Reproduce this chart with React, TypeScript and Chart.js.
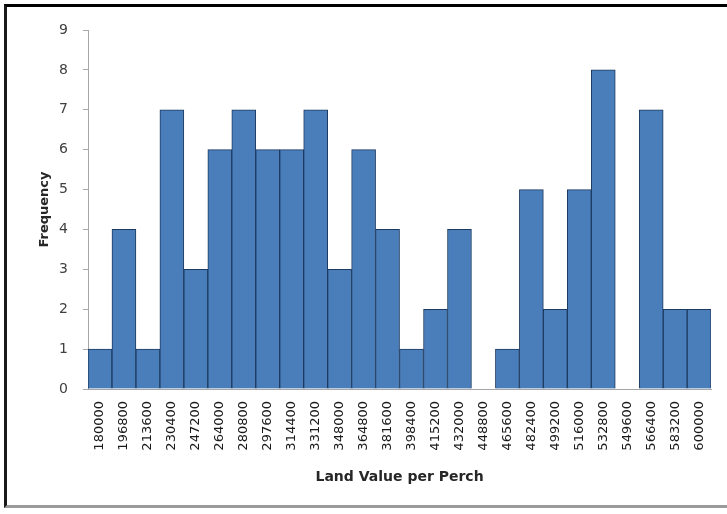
import React, { useEffect, useRef } from "react";
import { Chart, registerables } from "chart.js";

Chart.register(...registerables);

// Histogram bins (land value per perch) and their counts
const binLabels: string[] = [
  "180000", "196800", "213600", "230400", "247200", "264000", "280800",
  "297600", "314400", "331200", "348000", "364800", "381600", "398400",
  "415200", "432000", "448800", "465600", "482400", "499200", "516000",
  "532800", "549600", "566400", "583200", "600000",
];
const frequencies: number[] = [
  1, 4, 1, 7, 3, 6, 7, 6, 6, 7, 3, 6, 4, 1, 2, 4, 0, 1, 5, 2, 5, 8, 0, 7, 2, 2,
];
const yMax = 9;

const xTitle = "Land Value per Perch";
const yTitle = "Frequency";

export default function App() {
  const canvasRef = useRef<HTMLCanvasElement | null>(null);

  useEffect(() => {
    const canvas = canvasRef.current;
    if (!canvas) return;
    const chart = new Chart(canvas, {
      type: "bar",
      data: {
        labels: binLabels,
        datasets: [
          {
            data: frequencies,
            backgroundColor: "#4A7EBB",
            borderColor: "#1C3A60",
            borderWidth: 1,
            borderSkipped: "bottom",
            barPercentage: 1,
            categoryPercentage: 1,
          },
        ],
      },
      options: {
        animation: false,
        responsive: false,
        maintainAspectRatio: false,
        layout: { padding: { left: 33, top: 30, right: 14, bottom: 24 } },
        plugins: {
          legend: { display: false },
          tooltip: { enabled: false },
        },
        scales: {
          x: {
            grid: { display: false, drawTicks: false },
            border: { display: true, color: "#A6A6A6", width: 1 },
            ticks: {
              autoSkip: false,
              minRotation: 90,
              maxRotation: 90,
              padding: 12,
              color: "#1a1a1a",
              font: { family: "DejaVu Sans", size: 13 },
            },
            title: {
              display: true,
              text: xTitle,
              color: "#262626",
              padding: { top: 4, bottom: 4 },
              font: { family: "DejaVu Sans", size: 14, weight: "bold" },
            },
            afterFit: (scale: any) => {
              scale.height = 101;
            },
          },
          y: {
            min: 0,
            max: yMax,
            grid: {
              drawOnChartArea: false,
              drawTicks: true,
              tickLength: 5,
              color: "#A6A6A6",
            },
            border: { display: true, color: "#A6A6A6", width: 1 },
            ticks: {
              stepSize: 1,
              padding: 15,
              color: "#404040",
              font: { family: "DejaVu Sans", size: 14 },
            },
            title: {
              display: true,
              text: yTitle,
              color: "#262626",
              padding: { top: 4, bottom: 4 },
              font: { family: "DejaVu Sans", size: 13, weight: "bold" },
            },
            afterFit: (scale: any) => {
              scale.width = 55;
            },
          },
        },
      },
    });
    return () => chart.destroy();
  }, []);

  return (
    <div
      style={{
        position: "fixed",
        left: 0,
        top: 0,
        width: 727,
        height: 514,
        background: "#fff",
        overflow: "hidden",
      }}
    >
      <div
        style={{
          position: "absolute",
          left: 4,
          top: 4,
          width: 740,
          height: 504,
          borderTop: "3px solid #000",
          borderLeft: "3px solid #1a1a1a",
          borderBottom: "3px solid #9a9a9a",
          boxSizing: "border-box",
        }}
      />
      <canvas
        ref={canvasRef}
        width={727}
        height={514}
        style={{ position: "absolute", left: 0, top: 0 }}
      />
    </div>
  );
}
